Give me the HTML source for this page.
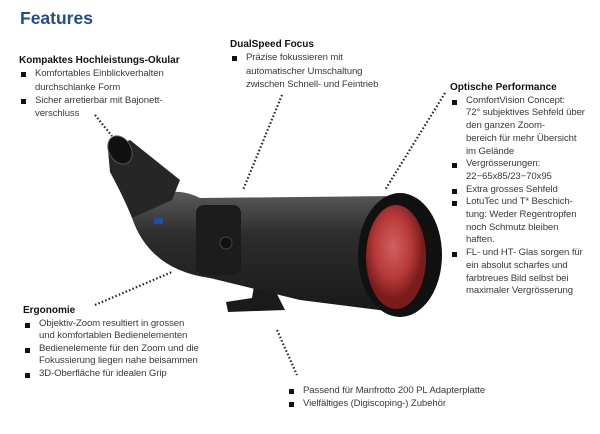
<!DOCTYPE html>
<html><head><meta charset="utf-8"><style>
body{margin:0;width:600px;height:434px;background:#fff;position:relative;overflow:hidden;font-family:"Liberation Sans",sans-serif;color:#333}
.t{position:absolute;font-size:9.6px;line-height:13.3px;color:#3a3a3a;white-space:nowrap;letter-spacing:-0.1px}
.h{font-weight:bold;color:#111;font-size:10px;letter-spacing:0}
.b{position:relative;padding-left:16px}
.b:before{content:"";position:absolute;left:2px;top:5px;width:5px;height:5px;background:#111}
h1{position:absolute;left:20px;top:8px;margin:0;font-size:17.5px;color:#1f4d8f;font-weight:bold}
svg{position:absolute;left:0;top:0}
</style></head><body>
<svg width="600" height="434">
<defs>
<linearGradient id="g" x1="0" y1="0" x2="0" y2="1"><stop offset="0" stop-color="#5a5a5a"/><stop offset=".35" stop-color="#2e2e2e"/><stop offset="1" stop-color="#181818"/></linearGradient>
<radialGradient id="r" cx=".45" cy=".4"><stop offset="0" stop-color="#d06060"/><stop offset=".6" stop-color="#b83a3a"/><stop offset="1" stop-color="#7a1c1c"/></radialGradient>
</defs>
<g stroke="#222" stroke-width="2.2" stroke-dasharray="1.5 2.2" fill="none">
<line x1="95" y1="115" x2="112" y2="136"/>
<line x1="282" y1="95" x2="243" y2="190"/>
<line x1="445" y1="93" x2="385" y2="190"/>
<line x1="95" y1="305" x2="172" y2="272"/>
<line x1="277" y1="330" x2="297" y2="375"/>
</g>
<path d="M255 280 L270 280 L280 300 L285 310 L228 312 L226 302 L252 298 Z" fill="#1a1a1a"/>
<path d="M165 192 Q185 190 200 198 L395 196 L395 312 L300 300 L210 278 Q150 270 132 218 Z" fill="url(#g)"/>
<path d="M108 150 L130 140 L180 180 L172 200 L132 218 Q125 200 110 172 Z" fill="#262626"/>
<ellipse cx="120" cy="150" rx="11" ry="15" transform="rotate(-30 120 150)" fill="#111" stroke="#555"/>
<rect x="196" y="205" width="45" height="70" rx="8" fill="#1c1c1c"/>
<circle cx="226" cy="243" r="6" fill="#111" stroke="#444"/>
<rect x="154" y="218" width="9" height="6" fill="#1f4fa0"/>
<ellipse cx="400" cy="255" rx="42" ry="62" fill="#111"/>
<ellipse cx="396" cy="257" rx="30" ry="52" fill="url(#r)"/>
</svg>
<h1>Features</h1>
<div class="t" style="left:19px;top:54px"><div class="h">Kompaktes Hochleistungs-Okular</div>
<div class="b">Komfortables Einblickverhalten<br>durchschlanke Form</div>
<div class="b">Sicher arretierbar mit Bajonett-<br>verschluss</div></div>
<div class="t" style="left:230px;top:38px"><div class="h">DualSpeed Focus</div>
<div class="b">Präzise fokussieren mit<br>automatischer Umschaltung<br>zwischen Schnell- und Feintrieb</div></div>
<div class="t" style="left:450px;top:82px;line-height:12.7px"><div class="h">Optische Performance</div>
<div class="b">ComfortVision Concept:<br>72° subjektives Sehfeld über<br>den ganzen Zoom-<br>bereich für mehr Übersicht<br>im Gelände</div>
<div class="b">Vergrösserungen:<br>22−65x85/23−70x95</div>
<div class="b">Extra grosses Sehfeld</div>
<div class="b">LotuTec und T* Beschich-<br>tung: Weder Regentropfen<br>noch Schmutz bleiben<br>haften.</div>
<div class="b">FL- und HT- Glas sorgen für<br>ein absolut scharfes und<br>farbtreues Bild selbst bei<br>maximaler Vergrösserung</div></div>
<div class="t" style="left:23px;top:305px;line-height:12.6px"><div class="h">Ergonomie</div>
<div class="b">Objektiv-Zoom resultiert in grossen<br>und komfortablen Bedienelementen</div>
<div class="b">Bedienelemente für den Zoom und die<br>Fokussierung liegen nahe beisammen</div>
<div class="b">3D-Oberfläche für idealen Grip</div></div>
<div class="t" style="left:287px;top:384px"><div class="b">Passend für Manfrotto 200 PL Adapterplatte</div>
<div class="b">Vielfältiges (Digiscoping-) Zubehör</div></div>
</body></html>
